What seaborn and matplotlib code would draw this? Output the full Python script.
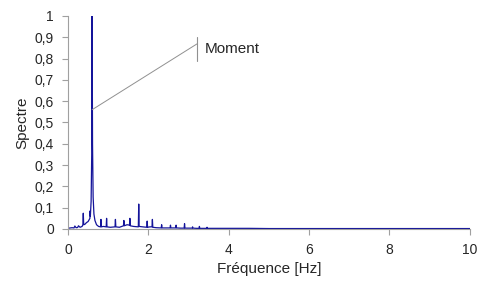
import numpy as np
import pandas as pd
import seaborn as sns
import matplotlib.pyplot as plt

# Spectre du moment
freq = [0.02, 0.10, 0.15, 0.17, 0.20, 0.24, 0.26, 0.30, 0.35, 0.37, 0.38, 0.39,
        0.42, 0.46, 0.50, 0.53, 0.545, 0.55, 0.556, 0.575, 0.59, 0.60, 0.61,
        0.625, 0.645, 0.67, 0.71, 0.76, 0.81, 0.82, 0.83, 0.88, 0.95, 0.96, 0.97,
        1.05, 1.17, 1.18, 1.19, 1.28, 1.38, 1.39, 1.40, 1.47, 1.53, 1.54, 1.55,
        1.63, 1.75, 1.76, 1.77, 1.86, 1.96, 1.97, 1.98, 2.04, 2.09, 2.10, 2.11,
        2.20, 2.32, 2.33, 2.34, 2.45, 2.54, 2.55, 2.56, 2.62, 2.68, 2.69, 2.70,
        2.80, 2.89, 2.90, 2.91, 3.00, 3.09, 3.10, 3.11, 3.20, 3.26, 3.27, 3.28,
        3.37, 3.45, 3.46, 3.47, 3.70, 4.00, 4.50, 5.00, 5.50, 6.00, 6.50, 7.00,
        7.50, 8.00, 8.50, 9.00, 9.50, 10.00]
spectre = [0.004, 0.006, 0.005, 0.014, 0.006, 0.007, 0.015, 0.008, 0.012, 0.02, 0.074, 0.02,
           0.022, 0.03, 0.035, 0.045, 0.05, 0.085, 0.06, 0.13, 0.35, 1.0, 0.4,
           0.15, 0.07, 0.04, 0.02, 0.012, 0.01, 0.045, 0.01, 0.012, 0.01, 0.05, 0.01,
           0.008, 0.01, 0.045, 0.01, 0.008, 0.015, 0.04, 0.015, 0.02, 0.018, 0.05, 0.015,
           0.012, 0.01, 0.117, 0.012, 0.01, 0.008, 0.037, 0.008, 0.01, 0.01, 0.045, 0.008,
           0.006, 0.005, 0.02, 0.005, 0.005, 0.005, 0.018, 0.005, 0.005, 0.005, 0.018, 0.005,
           0.004, 0.004, 0.025, 0.004, 0.004, 0.004, 0.01, 0.004, 0.003, 0.003, 0.012, 0.003,
           0.003, 0.003, 0.008, 0.003, 0.003, 0.003, 0.003, 0.002, 0.002, 0.002, 0.002, 0.002,
           0.002, 0.002, 0.002, 0.002, 0.002, 0.002]

data = pd.DataFrame({'Fréquence': freq, 'Spectre': spectre})

sns.set_style("white")
plt.rcParams['font.family'] = ['Liberation Sans', 'DejaVu Sans']

fig = plt.figure(figsize=(4.81, 2.84), dpi=100)
ax = fig.add_axes([0.1414, 0.1937, 0.8354, 0.75])

sns.lineplot(data=data, x='Fréquence', y='Spectre', ax=ax, color='#14149a',
             linewidth=0.9, sort=False)

# étiquette avec trait de rappel
ax.plot([0.6, 3.21], [0.56, 0.869], color='#909090', linewidth=0.7)
ax.plot([3.21, 3.21], [0.79, 0.90], color='#909090', linewidth=0.8)
ax.text(3.41, 0.845, 'Moment', fontsize=11, va='center', ha='left')

ax.set_xlim(0, 10)
ax.set_ylim(0, 1)
ax.set_xticks([0, 2, 4, 6, 8, 10])
ax.set_yticks(np.arange(0, 1.01, 0.1))
ax.set_yticklabels(['0', '0,1', '0,2', '0,3', '0,4', '0,5', '0,6', '0,7', '0,8', '0,9', '1'])
ax.set_xlabel('Fréquence [Hz]', fontsize=11)
ax.set_ylabel('Spectre', fontsize=11)

for side in ['top', 'right']:
    ax.spines[side].set_visible(False)
for side in ['left', 'bottom']:
    ax.spines[side].set_color('#a0a0a0')
    ax.spines[side].set_linewidth(0.8)
ax.tick_params(axis='both', which='major', labelsize=10, direction='out', length=4,
               width=0.8, color='#a0a0a0', left=True, bottom=True, pad=6)

fig.savefig('out.png', dpi=100)
